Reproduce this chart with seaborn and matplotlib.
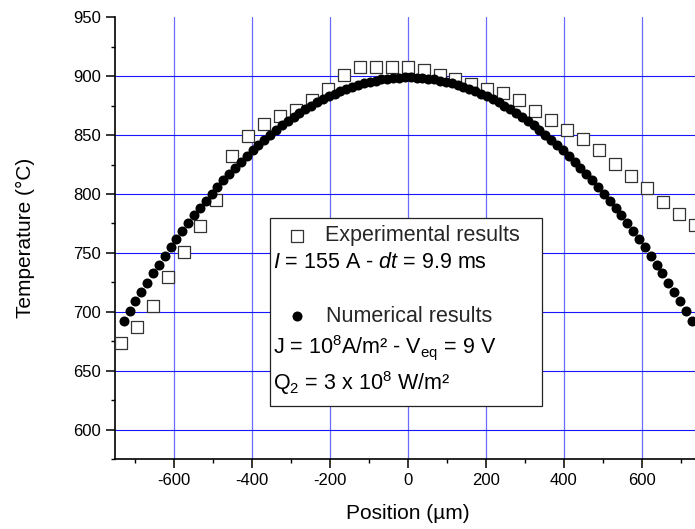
import numpy as np
import pandas as pd
import matplotlib
matplotlib.use("Agg")
import matplotlib.pyplot as plt
import seaborn as sns
from matplotlib.ticker import FixedLocator, MultipleLocator
from matplotlib.patches import Rectangle

# ---------------- data ----------------
exp_pos = [-735, -694, -653, -613, -572, -531, -490, -449, -408, -368, -327, -286,
           -245, -204, -163, -122, -82, -41, 0, 41, 82, 122, 163, 204, 245, 286,
           327, 368, 408, 449, 490, 531, 572, 613, 653, 694, 735]
exp_temp = [673.5, 686.8, 705.3, 729.3, 750.8, 772.6, 795.0, 832.0, 849.0, 859.0,
            866.0, 871.6, 880.0, 889.5, 901.3, 907.5, 907.5, 907.5, 907.5, 905.6,
            901.3, 898.0, 893.7, 889.0, 885.7, 880.0, 870.8, 862.6, 854.0, 846.7,
            837.0, 825.5, 815.0, 805.0, 793.0, 783.0, 774.0]

num_pos = [-727.5, -712.5, -697.5, -682.5, -667.5, -652.5, -637.5, -622.5, -607.5,
           -592.5, -577.5, -562.5, -547.5, -532.5, -517.5, -502.5, -487.5, -472.5,
           -457.5, -442.5, -427.5, -412.5, -397.5, -382.5, -367.5, -352.5, -337.5,
           -322.5, -307.5, -292.5, -277.5, -262.5, -247.5, -232.5, -217.5, -202.5,
           -187.5, -172.5, -157.5, -142.5, -127.5, -112.5, -97.5, -82.5, -67.5,
           -52.5, -37.5, -22.5, -7.5,
           7.5, 22.5, 37.5, 52.5, 67.5, 82.5, 97.5, 112.5, 127.5, 142.5, 157.5,
           172.5, 187.5, 202.5, 217.5, 232.5, 247.5, 262.5, 277.5, 292.5, 307.5,
           322.5, 337.5, 352.5, 367.5, 382.5, 397.5, 412.5, 427.5, 442.5, 457.5,
           472.5, 487.5, 502.5, 517.5, 532.5, 547.5, 562.5, 577.5, 592.5, 607.5,
           622.5, 637.5, 652.5, 667.5, 682.5, 697.5, 712.5, 727.5]
num_temp = [692.1, 700.5, 708.8, 716.9, 724.8, 732.5, 740.1, 747.5, 754.7, 761.7,
            768.6, 775.3, 781.8, 788.1, 794.3, 800.3, 806.1, 811.7, 817.2, 822.4,
            827.5, 832.5, 837.2, 841.8, 846.2, 850.4, 854.5, 858.3, 862.0, 865.5,
            868.9, 872.1, 875.0, 877.9, 880.5, 883.0, 885.3, 887.4, 889.3, 891.1,
            892.6, 894.1, 895.3, 896.3, 897.2, 897.9, 898.5, 898.8, 899.0,
            899.0, 898.8, 898.5, 897.9, 897.2, 896.3, 895.3, 894.1, 892.6, 891.1,
            889.3, 887.4, 885.3, 883.0, 880.5, 877.9, 875.0, 872.1, 868.9, 865.5,
            862.0, 858.3, 854.5, 850.4, 846.2, 841.8, 837.2, 832.5, 827.5, 822.4,
            817.2, 811.7, 806.1, 800.3, 794.3, 788.1, 781.8, 775.3, 768.6, 761.7,
            754.7, 747.5, 740.1, 732.5, 724.8, 716.9, 708.8, 700.5, 692.1]

x_ticks = [-600, -400, -200, 0, 200, 400, 600]
y_ticks = [600, 650, 700, 750, 800, 850, 900, 950]

label_exp = "Experimental results"
label_num = "Numerical results"
line_exp = r"$\mathit{I}$ = 155 A - $\mathit{dt}$ = 9.9 ms"
line_j = r"J = 10$^{8}$A/m² - V$_{\mathrm{eq}}$ = 9 V"
line_q = r"Q$_{2}$ = 3 x 10$^{8}$ W/m²"

# ---------------- style ----------------
sns.set_theme(style="ticks")
plt.rcParams["font.family"] = ["Liberation Sans", "DejaVu Sans"]
plt.rcParams["mathtext.fontset"] = "custom"
plt.rcParams["mathtext.rm"] = "Liberation Sans"
plt.rcParams["mathtext.it"] = "Liberation Sans:italic"
plt.rcParams["mathtext.bf"] = "Liberation Sans:bold"
plt.rcParams["axes.unicode_minus"] = False

fig = plt.figure(figsize=(6.95, 5.29), dpi=100)
ax = fig.add_axes([115 / 695, 70 / 529, 585.5 / 695, 441.7 / 529])

df_exp = pd.DataFrame({"Position": exp_pos, "Temperature": exp_temp})
df_num = pd.DataFrame({"Position": num_pos, "Temperature": num_temp})

sns.scatterplot(data=df_exp, x="Position", y="Temperature", marker="s", s=70,
                color="white", edgecolor="#333333", linewidth=0.9,
                ax=ax, zorder=3, legend=False)
sns.scatterplot(data=df_num, x="Position", y="Temperature", marker="o", s=52,
                color="black", edgecolor="black", linewidth=0,
                ax=ax, zorder=3.5, legend=False)

ax.set_xlim(-750, 750)
ax.set_ylim(575, 950)
ax.xaxis.set_major_locator(FixedLocator(x_ticks))
ax.xaxis.set_minor_locator(MultipleLocator(100))
ax.yaxis.set_major_locator(FixedLocator(y_ticks))
ax.yaxis.set_minor_locator(MultipleLocator(25))

ax.set_axisbelow(True)
ax.xaxis.grid(True, which="major", color="#6a6aff", linewidth=0.9)
ax.yaxis.grid(True, which="major", color="#1515ff", linewidth=0.8)
ax.grid(False, which="minor")
for t, loc in zip(ax.yaxis.get_major_ticks(), y_ticks):
    if loc == 950:
        t.gridline.set_visible(False)

for s in ["top", "right"]:
    ax.spines[s].set_visible(False)
for s in ["left", "bottom"]:
    ax.spines[s].set_color("black")
    ax.spines[s].set_linewidth(1.2)

ax.tick_params(axis="both", which="major", direction="out", length=6.3, width=1.1,
               color="black", labelcolor="black", labelsize=12)
ax.tick_params(axis="y", which="major", pad=3.8)
ax.tick_params(axis="both", which="minor", direction="out", length=3.0, width=1.0,
               color="black")

ax.set_xlabel("Position (µm)", fontsize=15, color="black")
ax.set_ylabel("Temperature (°C)", fontsize=15, color="black")
ax.xaxis.set_label_coords(0.5, -0.101)
ax.yaxis.set_label_coords(-0.137, 0.5)

# legend box
ax.add_patch(Rectangle((0.2647, 0.12), 0.4646, 0.4256, transform=ax.transAxes,
                       facecolor="white", edgecolor="#222222", linewidth=0.9,
                       zorder=4))

fs = 15.5
h_exp, h_num = ax.collections[0], ax.collections[1]
leg1 = ax.legend([h_exp], [label_exp], loc="center left", bbox_to_anchor=(0.2921, 0.5049),
                 frameon=False, fontsize=fs, handlelength=1.0, handletextpad=0.8,
                 borderpad=0, borderaxespad=0, scatterpoints=1)
leg1.set_zorder(6)
ax.add_artist(leg1)
leg2 = ax.legend([h_num], [label_num], loc="center left", bbox_to_anchor=(0.2921, 0.3237),
                 frameon=False, fontsize=fs, handlelength=1.0, handletextpad=0.85,
                 borderpad=0, borderaxespad=0, scatterpoints=1)
leg2.set_zorder(6)

for txt, yb in [(line_exp, 0.4317), (line_j, 0.2393), (line_q, 0.1562)]:
    ax.text(0.2705, yb, txt, transform=ax.transAxes, ha="left", va="baseline",
            fontsize=fs, color="black", zorder=6)

fig.savefig("out.png", dpi=100)
